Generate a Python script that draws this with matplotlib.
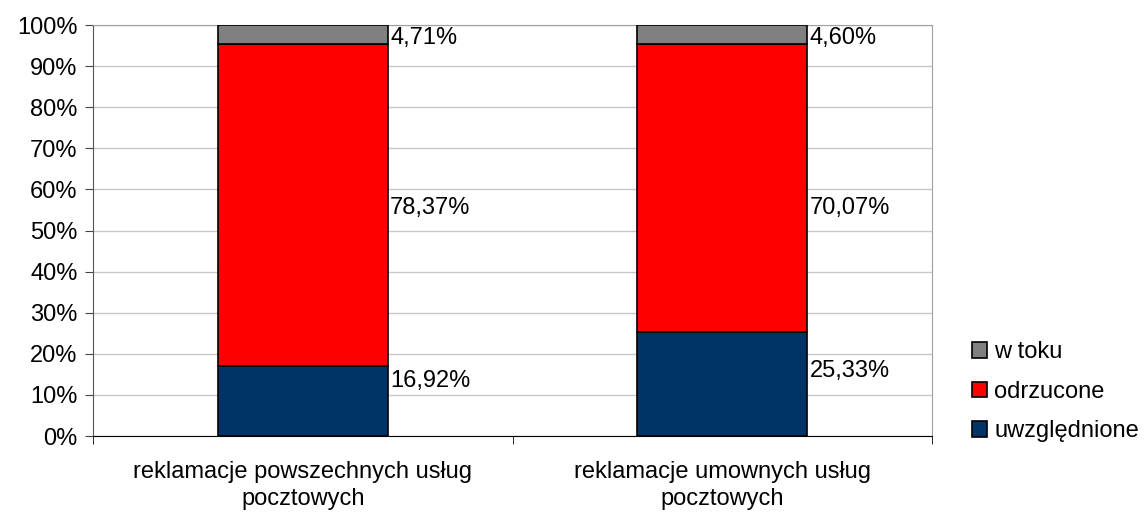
import matplotlib
matplotlib.use("Agg")
import matplotlib.pyplot as plt
import numpy as np

categories = ["reklamacje powszechnych usług\npocztowych",
              "reklamacje umownych usług\npocztowych"]
series_names = ["uwzględnione", "odrzucone", "w toku"]
uwzglednione = [16.92, 25.33]
odrzucone = [78.37, 70.07]
w_toku = [4.71, 4.60]
colors = ["#003366", "#ff0000", "#808080"]
# vertical nudge of each data label from its segment centre (percentage points)
label_nudge = [[4.9, 3.1], [-0.6, -4.9], [-0.8, -0.9]]

plt.rcParams["font.family"] = ["Liberation Sans", "DejaVu Sans"]
fs = 17

fig = plt.figure(figsize=(11.47, 5.12), dpi=100)
ax = fig.add_axes([0.0811, 0.1484, 0.7315, 0.8026])

x = np.arange(len(categories))
width = 0.405
bottom = np.zeros(len(categories))
handles = []
for name, vals, col, nudge in zip(series_names, [uwzglednione, odrzucone, w_toku],
                                  colors, label_nudge):
    vals = np.array(vals)
    b = ax.bar(x, vals, width, bottom=bottom, color=col, edgecolor="black",
               linewidth=1.2, label=name, zorder=3)
    handles.append(b)
    for xi, v, bt, dn in zip(x, vals, bottom, nudge):
        ax.text(xi + width / 2 + 0.006, bt + v / 2 + dn, f"{v:.2f}%".replace(".", ","),
                va="center", ha="left", fontsize=fs, color="black")
    bottom += vals

ax.set_xlim(-0.5, len(categories) - 0.5)
ax.set_ylim(0, 100)
ax.set_yticks(np.arange(0, 101, 10))
ax.set_yticklabels([f"{t}%" for t in range(0, 101, 10)], fontsize=fs)
ax.set_xticks(x)
ax.set_xticklabels(categories, fontsize=fs, linespacing=1.3)
ax.tick_params(axis="x", length=0, pad=18)
ax.set_xticks(np.arange(-0.5, len(categories), 1.0), minor=True)
ax.tick_params(axis="x", which="minor", length=6, direction="out", color="black")
ax.tick_params(axis="y", length=6, direction="out", color="#444444", pad=5)
ax.grid(True, axis="y", color="#c8c8c8", linewidth=1, zorder=0)

for s in ["top", "right"]:
    ax.spines[s].set_color("#a0a0a0")
ax.spines["left"].set_color("#555555")
ax.spines["bottom"].set_color("black")

leg = fig.legend(handles[::-1], series_names[::-1], loc="center left",
                 bbox_to_anchor=(0.837, 0.235), frameon=False, fontsize=fs,
                 handlelength=0.65, handleheight=0.65, handletextpad=0.3,
                 labelspacing=0.75, borderpad=0)

fig.savefig("out.png")
plt.close(fig)
